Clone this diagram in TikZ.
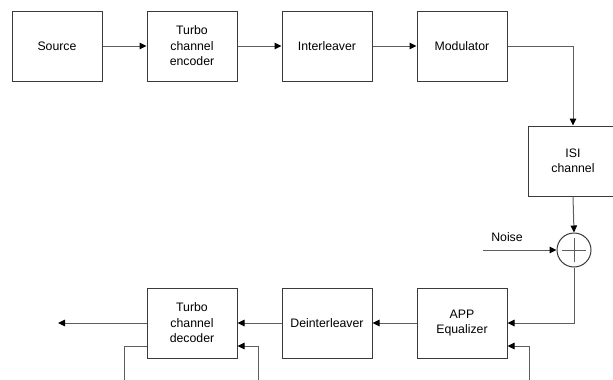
\documentclass[tikz,border=0pt]{standalone}
\usepackage{fontspec}
\setmainfont{Liberation Sans}
\usetikzlibrary{arrows.meta,calc}
\definecolor{linec}{HTML}{5E5E5E}
\definecolor{boxc}{HTML}{3A3A3A}
\begin{document}
\begin{tikzpicture}[x=1pt,y=-1pt,
  blk/.style={draw=boxc, line width=1pt, minimum width=90pt, minimum height=70pt,
    align=center, inner sep=0pt, font=\fontsize{12.3}{15.5}\selectfont},
  ln/.style={draw=linec, line width=1pt},
  arr/.style={ln, -{Triangle[length=7pt,width=6.5pt,color=black]}},
  lbl/.style={font=\fontsize{12.3}{15.5}\selectfont, inner sep=0pt}]
\useasboundingbox (0,0) rectangle (613,380);
\clip (0,0) rectangle (613,380);
% top row
\node[blk] (src) at (57,46) {Source};
\node[blk] (enc) at (192,46) {Turbo\\channel\\encoder};
\node[blk] (int) at (327,46) {Interleaver};
\node[blk] (mod) at (462,46) {Modulator};
% channel
\node[blk] (isi) at (573,161) {ISI\\channel};
\node[draw=boxc, line width=1pt, circle, minimum size=34pt, inner sep=0pt] (sum) at (574,250) {};
\draw[ln] ($(sum.center)+(-12,0)$) -- ($(sum.center)+(12,0)$);
\draw[ln] ($(sum.center)+(0,-12)$) -- ($(sum.center)+(0,12)$);
\node[lbl] (noise) at (507,237) {Noise};
\coordinate (nin) at (483,250);
% bottom row
\node[blk] (app) at (462,323) {APP\\Equalizer};
\node[blk] (dei) at (327,323) {Deinterleaver};
\node[blk] (dec) at (192,323) {Turbo\\channel\\decoder};
\coordinate (out) at (58,323);
\coordinate (fbl) at (124,382);
\coordinate (fbr) at (258,382);
\coordinate (fba) at (529,382);
% connectors
\draw[arr] (src) -- (enc);
\draw[arr] (enc) -- (int);
\draw[arr] (int) -- (mod);
\draw[arr] (mod.east) -| (isi.north);
\draw[arr] (isi.south) -- (sum.north);
\draw[arr] (nin) -- (sum.west);
\draw[arr] (sum.south) |- (app.east);
\draw[arr] (app) -- (dei);
\draw[arr] (dei) -- (dec);
\draw[arr] (dec.west) -- (out);
\draw[ln] (dec.west |- 0,346) -| (fbl);
\draw[arr] (fbr) |- (dec.east |- 0,346);
\draw[arr] (fba) |- (app.east |- 0,346);
\end{tikzpicture}
\end{document}
